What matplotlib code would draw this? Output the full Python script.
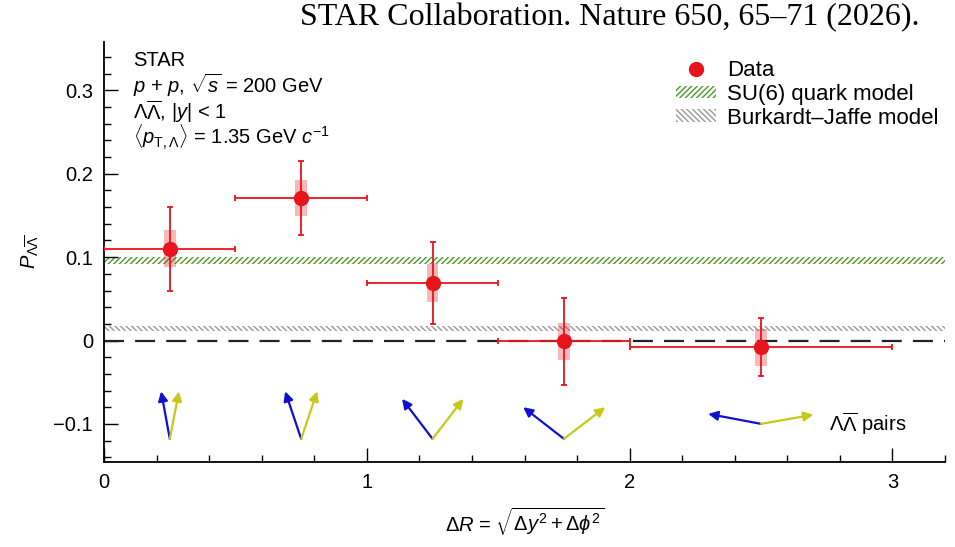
import numpy as np
import matplotlib
matplotlib.use('Agg')
import matplotlib.pyplot as plt
from matplotlib.patches import Patch, Rectangle
from matplotlib.lines import Line2D
from matplotlib.ticker import MultipleLocator, FixedLocator, FuncFormatter

plt.rcParams['font.family'] = ['Liberation Sans', 'DejaVu Sans']
plt.rcParams['mathtext.fontset'] = 'custom'
plt.rcParams['mathtext.rm'] = 'Liberation Sans'
plt.rcParams['mathtext.it'] = 'Liberation Sans:italic'
plt.rcParams['hatch.linewidth'] = 1.0

# data
dr = np.array([0.25, 0.75, 1.25, 1.75, 2.5])
dr_lo = np.array([0.0, 0.5, 1.0, 1.5, 2.0])
dr_hi = np.array([0.5, 1.0, 1.5, 2.0, 3.0])
pol = np.array([0.110, 0.171, 0.069, -0.001, -0.008])
stat = np.array([0.050, 0.044, 0.049, 0.052, 0.035])
sys_err = np.array([0.022, 0.022, 0.023, 0.022, 0.022])

# model bands
su6_band = (0.092, 0.100)
bj_band = (0.012, 0.017)

# pair arrows: origin and the two tips (blue = Lambda, yellow = anti-Lambda)
arr_x0 = [0.25, 0.75, 1.25, 1.75, 2.50]
arr_y0 = [-0.118, -0.118, -0.118, -0.118, -0.100]
blue_x = [0.217, 0.689, 1.134, 1.595, 2.299]
blue_y = [-0.061, -0.061, -0.070, -0.080, -0.088]
yel_x = [0.285, 0.811, 1.367, 1.907, 2.699]
yel_y = [-0.061, -0.061, -0.070, -0.080, -0.089]

red = '#e8141c'
fs = 14.5

fig = plt.figure(figsize=(9.55, 5.47), dpi=100)
ax = fig.add_axes([0.109, 0.155, 0.8805, 0.768])
ax.set_xlim(0, 3.2)
ax.set_ylim(-0.146, 0.358)

# model bands
ax.fill_between([0, 3.2], su6_band[0], su6_band[1], facecolor='none',
                edgecolor='#4c9a2a', hatch='//////', linewidth=0)
ax.fill_between([0, 3.2], bj_band[0], bj_band[1], facecolor='none',
                edgecolor='#9a9a9a', hatch='\\\\\\\\\\\\', linewidth=0)

# zero line
ax.axhline(0, color='#222222', lw=1.6, dashes=(9, 5), zorder=2)

# systematic boxes
for x, y, s in zip(dr, pol, sys_err):
    ax.add_patch(Rectangle((x - 0.022, y - s), 0.044, 2 * s, facecolor=red,
                           alpha=0.3, edgecolor='none', zorder=3))

# data with stat errors
ax.errorbar(dr, pol, xerr=[dr - dr_lo, dr_hi - dr], yerr=stat, fmt='o',
            color=red, ms=10, elinewidth=1.3, capsize=2, capthick=1.3, zorder=4)

# arrows
for i in range(len(arr_x0)):
    ax.annotate('', xy=(blue_x[i], blue_y[i]), xytext=(arr_x0[i], arr_y0[i]),
                arrowprops=dict(arrowstyle='-|>', color='#1010d0', lw=1.6,
                                mutation_scale=14, shrinkA=0, shrinkB=0))
    ax.annotate('', xy=(yel_x[i], yel_y[i]), xytext=(arr_x0[i], arr_y0[i]),
                arrowprops=dict(arrowstyle='-|>', color='#c8c818', lw=1.6,
                                mutation_scale=14, shrinkA=0, shrinkB=0))
ax.text(2.76, -0.1, r'$\Lambda\overline{\Lambda}$ pairs', fontsize=fs, va='center')

# text block
lines = ['STAR', r'$p$ + $p$, $\sqrt{s}$ = 200 GeV',
         r'$\Lambda\overline{\Lambda}$, |$y$| < 1',
         r'$\langle p_{\mathrm{T},\Lambda}\rangle$ = 1.35 GeV $c^{-1}$']
for k, t in enumerate(lines):
    ax.text(0.11, 0.336 - k * 0.0305, t, fontsize=fs, va='center')

# legend
handles = [Line2D([], [], ls='none', marker='o', color=red, ms=10),
           Patch(facecolor='none', edgecolor='#4c9a2a', hatch='//////', lw=0),
           Patch(facecolor='none', edgecolor='#9a9a9a', hatch='\\\\\\\\\\\\', lw=0)]
ax.legend(handles, ['Data', 'SU(6) quark model', 'Burkardt\u2013Jaffe model'],
          loc='upper right', bbox_to_anchor=(1.003, 0.978), frameon=False,
          fontsize=16, handlelength=1.8, handleheight=0.5, labelspacing=0.12,
          borderaxespad=0.0, handletextpad=0.5)

# axes styling
for s in ['top', 'right']:
    ax.spines[s].set_visible(False)
ax.spines['left'].set_linewidth(1.3)
ax.spines['bottom'].set_linewidth(1.3)
ax.xaxis.set_major_locator(FixedLocator([0, 1, 2, 3]))
ax.xaxis.set_minor_locator(MultipleLocator(0.2))
ax.yaxis.set_major_locator(FixedLocator([-0.1, 0, 0.1, 0.2, 0.3]))
ax.yaxis.set_minor_locator(MultipleLocator(0.02))
ax.yaxis.set_major_formatter(FuncFormatter(
    lambda v, p: '0' if abs(v) < 1e-9 else ('%.1f' % v).replace('-', '\u2212')))
ax.tick_params(which='both', direction='in', labelsize=fs, width=1.0)
ax.tick_params(which='major', length=10, pad=8)
ax.tick_params(which='minor', length=5)

ax.set_xlabel(r'$\Delta R$ = $\sqrt{\Delta y^2 + \Delta \phi^2}$', fontsize=fs, labelpad=10)
ax.set_ylabel(r'$P_{\Lambda\overline{\Lambda}}$', fontsize=fs, labelpad=8)

fig.text(0.963, 0.967, 'STAR Collaboration. Nature 650, 65\u201371 (2026).',
         family='Liberation Serif', fontsize=23, ha='right', va='center')

fig.savefig('out.png', dpi=100)
